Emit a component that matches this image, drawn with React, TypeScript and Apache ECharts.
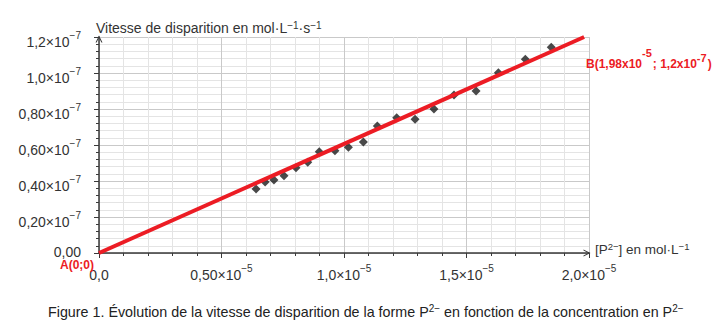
import React, { useEffect, useRef } from 'react';
import * as echarts from 'echarts';

// x in units of 10^-5 mol/L, y in units of 10^-7 mol/L/s
const concentrations = [0.641, 0.678, 0.714, 0.755, 0.804, 0.852, 0.899, 0.963, 1.018, 1.079, 1.136, 1.215, 1.29, 1.367, 1.449, 1.539, 1.63, 1.74, 1.846];
const rates = [0.356, 0.394, 0.406, 0.429, 0.474, 0.504, 0.563, 0.568, 0.587, 0.617, 0.706, 0.752, 0.743, 0.8, 0.878, 0.9, 1.002, 1.076, 1.143];
const fitLine = [[0, 0], [1.98, 1.2]];

const xTickValues = [0, 0.5, 1, 1.5, 2];
const xTickLabels = ['{m|0,0}', '{m|0,50×10}{s|−5}', '{m|1,0×10}{s|−5}', '{m|1,5×10}{s|−5}', '{m|2,0×10}{s|−5}'];
const yTickValues = [0, 0.2, 0.4, 0.6, 0.8, 1.0, 1.2];
const yTickLabels = ['{z|0,00}', '{m|0,20×10}{s|−7}', '{m|0,40×10}{s|−7}', '{m|0,60×10}{s|−7}', '{m|0,80×10}{s|−7}', '{m|1,0×10}{s|−7}', '{m|1,2×10}{s|−7}'];

const FONT = '"Liberation Sans", Arial, sans-serif';
const TEXT = '#333333';
const AXIS_COLOR = '#3a3a3a';
const RED = '#ec1c24';
const CHEVRON = 'path://M0,10 L5,0 L10,10 L8.4,10 L5,3.2 L1.6,10 Z';

const pick = (vals: number[], labels: string[], v: number) => {
  let best = 0;
  for (let i = 0; i < vals.length; i++) if (Math.abs(vals[i] - v) < Math.abs(vals[best] - v)) best = i;
  return labels[best];
};

const labelRich = {
  m: { fontSize: 14, lineHeight: 24, verticalAlign: 'bottom', color: TEXT, fontFamily: FONT },
  s: { fontSize: 10, lineHeight: 12, padding: [5, 0, 0, 0], verticalAlign: 'top', color: TEXT, fontFamily: FONT },
  z: { fontSize: 14, lineHeight: 16, padding: [0, 0, 4, 0], verticalAlign: 'top', color: TEXT, fontFamily: FONT },
};

const nameRich = {
  m: { fontSize: 13.5, lineHeight: 16, verticalAlign: 'middle', color: TEXT, fontFamily: FONT },
  s: { fontSize: 9.5, lineHeight: 10, verticalAlign: 'top', color: TEXT, fontFamily: FONT },
};

export default function App() {
  const ref = useRef<HTMLDivElement>(null);
  useEffect(() => {
    if (!ref.current) return;
    const chart = echarts.init(ref.current, undefined, { renderer: 'svg' });
    const points = concentrations.map((c, i) => [c, rates[i]]);
    chart.setOption({
      animation: false,
      backgroundColor: '#ffffff',
      textStyle: { fontFamily: FONT },
      grid: { left: 99, top: 37, width: 490, height: 216 },
      xAxis: {
        type: 'value',
        min: 0,
        max: 2,
        interval: 0.5,
        name: '{m|[P}{s|2−}{m|] en mol·L}{s|−1}',
        nameLocation: 'end',
        nameGap: 6,
        nameTextStyle: {
          color: TEXT, fontFamily: FONT, align: 'left', verticalAlign: 'middle', padding: [0, 0, 7, 0],
          rich: nameRich,
        },
        axisLine: { show: true, lineStyle: { color: AXIS_COLOR, width: 1.5 }, symbol: ['none', CHEVRON], symbolSize: [10, 7], symbolOffset: [0, -2] },
        axisTick: { show: true, length: 5, lineStyle: { color: AXIS_COLOR } },
        minorTick: { show: true, splitNumber: 5, length: 3, lineStyle: { color: AXIS_COLOR } },
        splitLine: { show: true, lineStyle: { color: '#c9c9c9', width: 1 } },
        minorSplitLine: { show: true, lineStyle: { color: '#e4e4e4', width: 1 } },
        axisLabel: {
          margin: 5,
          color: TEXT,
          fontFamily: FONT,
          verticalAlign: 'top',
          formatter: (v: number) => pick(xTickValues, xTickLabels, v),
          rich: labelRich,
        },
      },
      yAxis: {
        type: 'value',
        min: 0,
        max: 1.2,
        interval: 0.2,
        name: '{m|Vitesse de disparition en mol·L}{s|−1}{m|·s}{s|−1}',
        nameLocation: 'end',
        nameGap: 9,
        nameTextStyle: {
          color: TEXT, fontFamily: FONT, align: 'left', verticalAlign: 'middle', padding: [0, 0, 0, -3],
          rich: { ...nameRich, m: { ...nameRich.m, fontSize: 14 }, s: { ...nameRich.s, fontSize: 10 } },
        },
        axisLine: { show: true, lineStyle: { color: AXIS_COLOR, width: 1.5 }, symbol: ['none', CHEVRON], symbolSize: [10, 7], symbolOffset: [0, -2] },
        axisTick: { show: true, length: 5, lineStyle: { color: AXIS_COLOR } },
        minorTick: { show: true, splitNumber: 5, length: 3, lineStyle: { color: AXIS_COLOR } },
        splitLine: { show: true, lineStyle: { color: '#c9c9c9', width: 1 } },
        minorSplitLine: { show: true, lineStyle: { color: '#e4e4e4', width: 1 } },
        axisLabel: {
          margin: 18,
          color: TEXT,
          fontFamily: FONT,
          formatter: (v: number) => pick(yTickValues, yTickLabels, v),
          rich: labelRich,
        },
      },
      series: [
        {
          type: 'scatter',
          data: points,
          symbol: 'diamond',
          symbolSize: 9,
          itemStyle: { color: '#1c1c1c' },
          z: 2,
        },
        {
          type: 'line',
          data: fitLine,
          showSymbol: false,
          symbol: 'none',
          lineStyle: { color: RED, width: 4 },
          z: 3,
        },
      ],
      graphic: [
        {
          type: 'text',
          left: 60,
          top: 259,
          z: 100,
          style: { text: 'A(0;0)', fill: RED, font: `bold 12px ${FONT}` },
        },
        {
          type: 'text',
          left: 586,
          top: 42,
          z: 100,
          style: {
            text: '{m|B(1,98x10}{a|-5}{m|; 1,2x10}{b|-7}{m|)}',
            rich: {
              m: { fontSize: 12, fontWeight: 'bold', fill: RED, fontFamily: FONT, lineHeight: 28, verticalAlign: 'bottom' },
              a: { fontSize: 11, fontWeight: 'bold', fill: RED, fontFamily: FONT, lineHeight: 12, padding: [5, 1, 0, 0], verticalAlign: 'top' },
              b: { fontSize: 11, fontWeight: 'bold', fill: RED, fontFamily: FONT, lineHeight: 12, padding: [10.5, 1, 0, 0], verticalAlign: 'top' },
            },
          },
        },
        {
          type: 'text',
          left: 48,
          top: 302,
          z: 100,
          style: {
            text: '{c|Figure 1. Évolution de la vitesse de disparition de la forme P}{s|2−}{c| en fonction de la concentration en P}{s|2−}',
            rich: {
              c: { fontSize: 14.3, fill: '#222', fontFamily: FONT, lineHeight: 17, verticalAlign: 'bottom' },
              s: { fontSize: 10, fill: '#222', fontFamily: FONT, lineHeight: 12, padding: [1, 0, 0, 0], verticalAlign: 'top' },
            },
          },
        },
      ],
    });
    return () => chart.dispose();
  }, []);
  return <div ref={ref} style={{ position: 'fixed', left: 0, top: 0, width: 717, height: 335 }} />;
}
